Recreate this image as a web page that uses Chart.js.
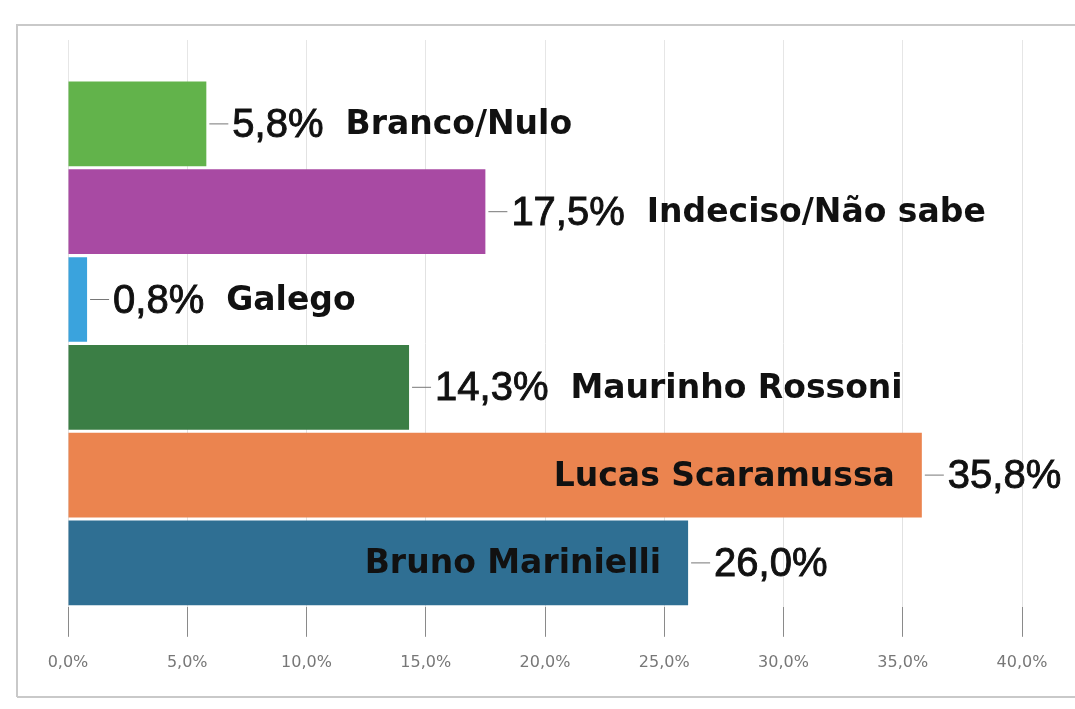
<!DOCTYPE html>
<html>
<head>
<meta charset="utf-8">
<script src="https://cdn.jsdelivr.net/npm/chart.js@4/dist/chart.umd.min.js"></script>
<style>
  html, body { margin: 0; padding: 0; background: #fff; }
  #wrap { width: 1075px; height: 709px; position: relative; }
</style>
</head>
<body>
<div id="wrap"><canvas id="myChart"></canvas></div>
<script>
const candidates = ["Branco/Nulo", "Indeciso/Não sabe", "Galego", "Maurinho Rossoni", "Lucas Scaramussa", "Bruno Marinielli"];
const percents = [5.8, 17.5, 0.8, 14.3, 35.8, 26.0];
const barColors = ["#62b34b", "#a84aa3", "#3aa3dd", "#3b7e45", "#eb844f", "#2f6f93"];
const tickValues = [0, 5, 10, 15, 20, 25, 30, 35, 40];

const fmt = (v) => v.toFixed(1).replace(".", ",") + "%";

// spreadsheet-like frame around the chart
const framePlugin = {
  id: "frame",
  beforeDraw(chart) {
    const c = chart.ctx;
    c.save();
    c.fillStyle = "#fff";
    c.fillRect(0, 0, chart.width, chart.height);
    c.strokeStyle = "#c9c9c9";
    c.lineWidth = 2;
    c.beginPath();
    c.moveTo(17, 697);
    c.lineTo(17, 25);
    c.lineTo(chart.width, 25);
    c.moveTo(17, 697);
    c.lineTo(chart.width, 697);
    c.stroke();
    c.restore();
  }
};

// value + name labels next to bars
const labelPlugin = {
  id: "barLabels",
  afterDatasetsDraw(chart) {
    const c = chart.ctx;
    const meta = chart.getDatasetMeta(0);
    c.save();
    c.textBaseline = "middle";
    meta.data.forEach((bar, i) => {
      const x = bar.x, y = bar.y + 2;
      // leader line
      c.strokeStyle = "#777";
      c.lineWidth = 1;
      c.beginPath();
      c.moveTo(x + 3, y - 2);
      c.lineTo(x + 22, y - 2);
      c.stroke();
      // value (slightly thickened)
      c.font = "40px 'Liberation Sans', Arial, sans-serif";
      c.fillStyle = "#111";
      c.strokeStyle = "#111";
      c.lineWidth = 0.9;
      c.textAlign = "left";
      const valText = fmt(percents[i]);
      c.fillText(valText, x + 26, y);
      c.strokeText(valText, x + 26, y);
      const valW = c.measureText(valText).width;
      // name
      c.font = "bold 33px 'DejaVu Sans', Verdana, sans-serif";
      c.fillStyle = "#111";
      if (percents[i] > 20) {
        c.textAlign = "right";
        c.fillText(candidates[i], x - 27, y);
      } else {
        c.fillText(candidates[i], x + 26 + valW + 22, y);
      }
    });
    c.restore();
  }
};

const ctx = document.getElementById("myChart").getContext("2d");
const myChart = new Chart(ctx, {
  type: "bar",
  data: {
    labels: candidates,
    datasets: [{
      data: percents,
      backgroundColor: barColors,
      borderWidth: 0,
      categoryPercentage: 1,
      barPercentage: 0.965
    }]
  },
  options: {
    indexAxis: "y",
    responsive: true,
    maintainAspectRatio: false,
    animation: false,
    layout: { padding: { left: 68, right: 53, top: 40, bottom: 21 } },
    scales: {
      x: {
        min: 0,
        max: 40,
        afterBuildTicks: (axis) => { axis.ticks = tickValues.map(v => ({ value: v })); },
        ticks: {
          color: "#777",
          padding: 16,
          font: { family: "'DejaVu Sans', Verdana, sans-serif", size: 16 },
          callback: (v) => fmt(v)
        },
        grid: { color: "#e2e2e2", tickColor: "#8a8a8a", tickLength: 30 },
        border: { display: false }
      },
      x2: {
        position: "top",
        min: 0,
        max: 40,
        afterBuildTicks: (axis) => { axis.ticks = tickValues.map(v => ({ value: v })); },
        ticks: { display: false },
        grid: { drawOnChartArea: false, tickColor: "#e6e6e6", tickLength: 40 },
        border: { display: false }
      },
      y: { display: false }
    },
    plugins: {
      legend: { display: false },
      tooltip: { enabled: false }
    }
  },
  plugins: [framePlugin, labelPlugin]
});
</script>
</body>
</html>
